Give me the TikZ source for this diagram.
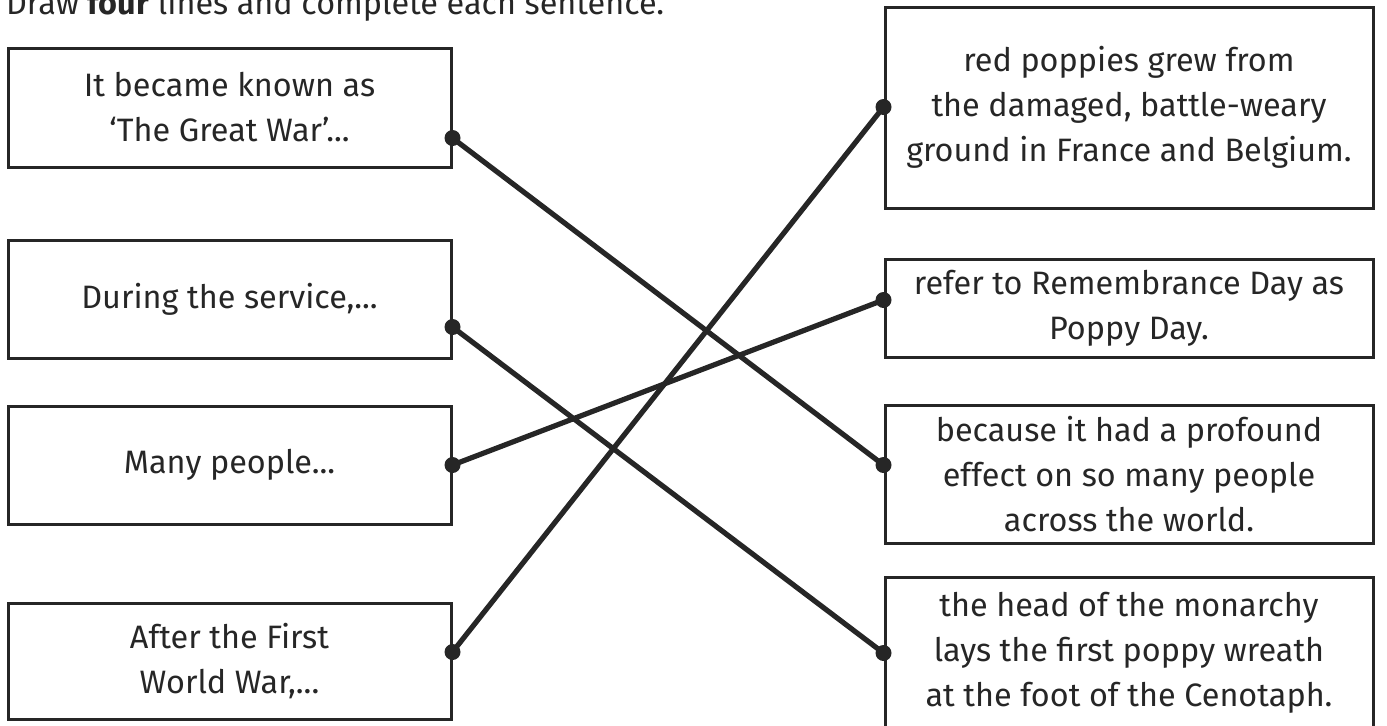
\documentclass[tikz,border=0pt]{standalone}
\usepackage{fontspec}
\setmainfont{Fira Sans}
\begin{document}
\begin{tikzpicture}[x=0.5pt,y=-0.5pt,
  box/.style={draw=ink,line width=1.5pt,align=center,inner sep=0pt,font=\fontsize{16.2}{22.5}\selectfont,text=ink},
  link/.style={draw=ink,line width=2.6pt},
  dot/.style={fill=ink}]
\definecolor{ink}{HTML}{262626}
\useasboundingbox (0,0) rectangle (1387,725);
\clip (0,0) rectangle (1387,725);
\node[anchor=base west,text=ink,font=\fontsize{16.2}{18}\selectfont] (title) at (-1,14) {Draw \textbf{four} lines and complete each sentence.};
% left boxes
\node[box,minimum width=221.5pt,minimum height=59.5pt] (L1) at (229.5,107.5) {It became known as\\‘The Great War’...};
\node[box,minimum width=221.5pt,minimum height=59pt] (L2) at (229.5,299) {During the service,...};
\node[box,minimum width=221.5pt,minimum height=59pt] (L3) at (229.5,465) {Many people...};
\node[box,minimum width=221.5pt,minimum height=58pt] (L4) at (229.5,661) {After the First\\World War,...};
% right boxes
\node[box,minimum width=244pt,minimum height=100.5pt] (R1) at (1129,107.5) {red poppies grew from\\the damaged, battle-weary\\ground in France and Belgium.};
\node[box,minimum width=244pt,minimum height=49pt] (R2) at (1129,308) {refer to Remembrance Day as\\Poppy Day.};
\node[box,minimum width=244pt,minimum height=69pt] (R3) at (1129,474) {because it had a profound\\effect on so many people\\across the world.};
\node[box,minimum width=244pt,minimum height=76pt] (R4) at (1129,653) {the head of the monarchy\\lays the first poppy wreath\\at the foot of the Cenotaph.};
% connection points
\coordinate (a1) at (L1.east |- 0,138);
\coordinate (a2) at (L2.east |- 0,327);
\coordinate (a3) at (L3.east |- 0,465);
\coordinate (a4) at (L4.east |- 0,652);
\coordinate (b1) at (R1.west |- 0,107);
\coordinate (b2) at (R2.west |- 0,300);
\coordinate (b3) at (R3.west |- 0,465);
\coordinate (b4) at (R4.west |- 0,653);
\draw[link] (a1) -- (b3);
\draw[link] (a2) -- (b4);
\draw[link] (a3) -- (b2);
\draw[link] (a4) -- (b1);
\foreach \p in {a1,a2,a3,a4,b1,b2,b3,b4} \fill[dot] (\p) circle (4pt);
\end{tikzpicture}
\end{document}
